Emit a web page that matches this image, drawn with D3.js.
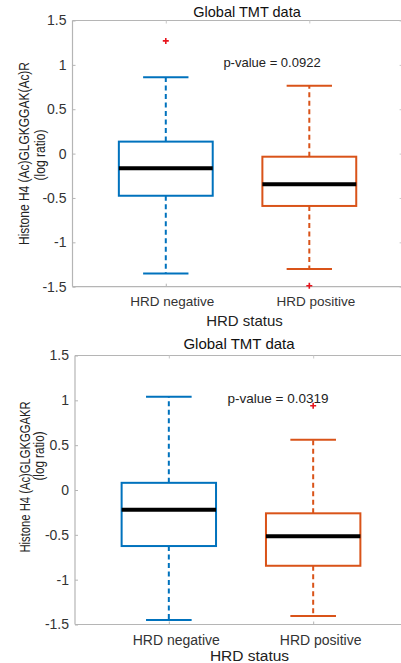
<!DOCTYPE html>
<html>
<head>
<meta charset="utf-8">
<script src="https://cdn.jsdelivr.net/npm/d3@7"></script>
<style>
    body { margin: 0; background: white; }
    svg { display: block; font-family: "Liberation Sans", Arial, sans-serif; }
</style>
</head>
<body>
<svg id="chart" width="401" height="663"></svg>
<script>
//分组
var groups = ["HRD negative", "HRD positive"];
var yTicks = [-1.5, -1, -0.5, 0, 0.5, 1, 1.5];
var yTickLabels = ["-1.5", "-1", "-0.5", "0", "0.5", "1", "1.5"];

//上图 H4 (Ac)GLGKGGAK(Ac)R
var acrWhiskLo = [-1.35, -1.30];
var acrQ1 = [-0.475, -0.59];
var acrMedian = [-0.165, -0.345];
var acrQ3 = [0.135, -0.035];
var acrWhiskHi = [0.86, 0.765];
var acrOutliers = [[1.27], [-1.49]];

//下图 H4 (Ac)GLGKGGAKR
var krWhiskLo = [-1.45, -1.405];
var krQ1 = [-0.625, -0.845];
var krMedian = [-0.22, -0.515];
var krQ3 = [0.08, -0.26];
var krWhiskHi = [1.04, 0.56];
var krOutliers = [[], [0.94]];

var colType = i => i == 0 ? "#0072BD" : "#D95319";

var svg = d3.select("#chart");

function drawPanel(p) {
    let g = svg.append("g");

    let x = d3.scaleLinear().domain([0.35, 2.65]).range([p.left, p.right]);
    let y = d3.scaleLinear().domain([-1.5, 1.5]).range([p.bottom, p.top]);

    let boxes = groups.map((name, i) => ({
        name: name, i: i, pos: i + 1,
        lo: p.lo[i], q1: p.q1[i], med: p.med[i], q3: p.q3[i], hi: p.hi[i],
        out: p.out[i]
    }));

    //坐标框
    g.append("line")
        .attr("x1", p.left).attr("x2", p.right + 10)
        .attr("y1", p.top).attr("y2", p.top)
        .attr("stroke", "#b5b5b5").attr("stroke-width", 1.2);
    g.append("line")
        .attr("x1", p.left).attr("x2", p.right + 10)
        .attr("y1", p.bottom).attr("y2", p.bottom)
        .attr("stroke", "#b5b5b5").attr("stroke-width", 1.2);
    g.append("line")
        .attr("x1", p.left).attr("x2", p.left)
        .attr("y1", p.top).attr("y2", p.bottom)
        .attr("stroke", "#b5b5b5").attr("stroke-width", 1.2);

    //y轴刻度
    let yAxis = d3.axisLeft(y).tickValues(yTicks)
        .tickFormat((d, i) => yTickLabels[i]).tickSize(-3).tickPadding(6);
    let ya = g.append("g").attr("transform", "translate(" + p.left + ",0)").call(yAxis);
    ya.select(".domain").remove();
    ya.selectAll("line").attr("stroke", "#b5b5b5");
    ya.selectAll("text").attr("fill", "#333").style("font-size", "14px");

    //右侧刻度
    let yAxisR = d3.axisRight(y).tickValues(yTicks).tickFormat("").tickSize(-3);
    let yr = g.append("g").attr("transform", "translate(" + p.right + ",0)").call(yAxisR);
    yr.select(".domain").remove();
    yr.selectAll("line").attr("stroke", "#c8c8c8");

    //x轴刻度
    let xAxis = d3.axisBottom(x).tickValues([1, 2])
        .tickFormat((d, i) => groups[i]).tickSize(-3).tickPadding(p.xPad);
    let xa = g.append("g").attr("transform", "translate(0," + p.bottom + ")").call(xAxis);
    xa.select(".domain").remove();
    xa.selectAll("line").attr("stroke", "#b5b5b5");
    xa.selectAll("text").attr("fill", "#333").attr("dx", p.xShift)
        .style("font-size", p.xFont);

    let xAxisT = d3.axisTop(x).tickValues([1, 2]).tickFormat("").tickSize(-3);
    let xt = g.append("g").attr("transform", "translate(0," + p.top + ")").call(xAxisT);
    xt.select(".domain").remove();
    xt.selectAll("line").attr("stroke", "#c8c8c8");

    let halfBox = x(1.327) - x(1);
    let halfCap = x(1.158) - x(1);

    let bx = g.selectAll(".box").data(boxes).join("g").attr("class", "box");

    //须线
    bx.append("line")
        .attr("x1", d => x(d.pos)).attr("x2", d => x(d.pos))
        .attr("y1", d => y(d.q3)).attr("y2", d => y(d.hi))
        .attr("stroke", d => colType(d.i)).attr("stroke-width", 2)
        .attr("stroke-dasharray", "5,3.5");
    bx.append("line")
        .attr("x1", d => x(d.pos)).attr("x2", d => x(d.pos))
        .attr("y1", d => y(d.q1)).attr("y2", d => y(d.lo))
        .attr("stroke", d => colType(d.i)).attr("stroke-width", 2)
        .attr("stroke-dasharray", "5,3.5");
    bx.append("line")
        .attr("x1", d => x(d.pos) - halfCap).attr("x2", d => x(d.pos) + halfCap)
        .attr("y1", d => y(d.hi)).attr("y2", d => y(d.hi))
        .attr("stroke", d => colType(d.i)).attr("stroke-width", 2);
    bx.append("line")
        .attr("x1", d => x(d.pos) - halfCap).attr("x2", d => x(d.pos) + halfCap)
        .attr("y1", d => y(d.lo)).attr("y2", d => y(d.lo))
        .attr("stroke", d => colType(d.i)).attr("stroke-width", 2);

    //箱体
    bx.append("rect")
        .attr("x", d => x(d.pos) - halfBox)
        .attr("y", d => y(d.q3))
        .attr("width", halfBox * 2)
        .attr("height", d => y(d.q1) - y(d.q3))
        .attr("fill", "white")
        .attr("stroke", d => colType(d.i)).attr("stroke-width", 2);

    //中位数
    bx.append("line")
        .attr("x1", d => x(d.pos) - halfBox).attr("x2", d => x(d.pos) + halfBox)
        .attr("y1", d => y(d.med)).attr("y2", d => y(d.med))
        .attr("stroke", "black").attr("stroke-width", 4);

    //异常值
    bx.selectAll(".outlier")
        .data(d => d.out.map(v => ({ v: v, pos: d.pos })))
        .join("path")
        .attr("class", "outlier")
        .attr("d", d => {
            let cx = x(d.pos), cy = y(d.v);
            return "M" + (cx - 3) + "," + cy + "H" + (cx + 3) + "M" + cx + "," + (cy - 3) + "V" + (cy + 3);
        })
        .attr("stroke", "#e8141c").attr("stroke-width", 1.6);

    //标题
    g.append("text")
        .attr("x", p.titleX).attr("y", p.titleY)
        .attr("text-anchor", "middle")
        .style("font-size", p.titleFont)
        .attr("fill", "#111")
        .text("Global TMT data");

    g.append("text")
        .attr("x", p.pX).attr("y", p.pY)
        .attr("text-anchor", "middle")
        .style("font-size", p.pFont)
        .attr("fill", "#222")
        .text(p.pText);

    g.append("text")
        .attr("x", p.xLabX).attr("y", p.xLabY)
        .attr("text-anchor", "middle")
        .style("font-size", p.xLabFont)
        .attr("fill", "#222")
        .text("HRD status");

    //y轴标题（两行）
    g.append("text")
        .attr("transform", "translate(" + p.yLab1[0] + "," + p.yLab1[1] + ") rotate(-90)")
        .attr("text-anchor", "middle")
        .attr("dy", "0.35em")
        .attr("textLength", p.yLab1[2])
        .attr("lengthAdjust", "spacingAndGlyphs")
        .style("font-size", "15px")
        .attr("fill", "#222")
        .text(p.yText);
    g.append("text")
        .attr("transform", "translate(" + p.yLab2[0] + "," + p.yLab2[1] + ") rotate(-90)")
        .attr("text-anchor", "middle")
        .attr("dy", "0.35em")
        .attr("textLength", p.yLab2[2])
        .attr("lengthAdjust", "spacingAndGlyphs")
        .style("font-size", "15px")
        .attr("fill", "#222")
        .text("(log ratio)");
}

drawPanel({
    left: 72.5, right: 402.6, top: 20.5, bottom: 286.7,
    lo: acrWhiskLo, q1: acrQ1, med: acrMedian, q3: acrQ3, hi: acrWhiskHi, out: acrOutliers,
    xPad: 10, xShift: 6, xFont: "13.5px",
    titleX: 247, titleY: 17, titleFont: "14.5px",
    pX: 272, pY: 67, pFont: "13px", pText: "p-value = 0.0922",
    xLabX: 244.5, xLabY: 326, xLabFont: "15px",
    yText: "Histone H4 (Ac)GLGKGGAK(Ac)R",
    yLab1: [24, 153.5, 183], yLab2: [39.5, 155, 51]
});

drawPanel({
    left: 75, right: 407, top: 355.5, bottom: 624.5,
    lo: krWhiskLo, q1: krQ1, med: krMedian, q3: krQ3, hi: krWhiskHi, out: krOutliers,
    xPad: 11, xShift: 7, xFont: "14px",
    titleX: 239, titleY: 349, titleFont: "15px",
    pX: 278, pY: 403, pFont: "13.5px", pText: "p-value = 0.0319",
    xLabX: 249.5, xLabY: 661, xLabFont: "15.5px",
    yText: "Histone H4 (Ac)GLGKGGAKR",
    yLab1: [25, 477, 151], yLab2: [39, 456, 49]
});
</script>
</body>
</html>
